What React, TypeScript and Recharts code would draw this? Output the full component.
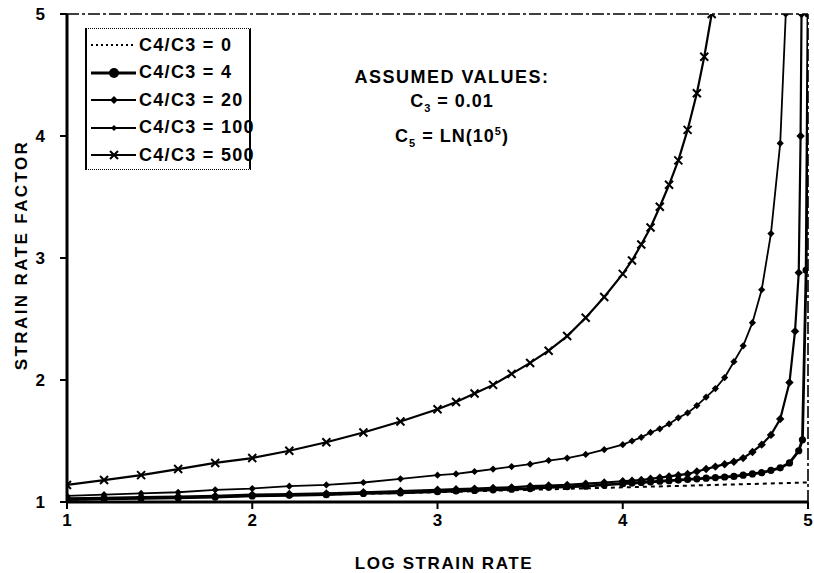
import { LineChart, Line, XAxis, YAxis, ReferenceLine, Label } from 'recharts';

const FONT = '"Liberation Sans", Arial, sans-serif';

const X_TICKS = [1, 2, 3, 4, 5];
const Y_TICKS = [1, 2, 3, 4, 5];

// C4/C3 = 0
const X_R0 = [1, 2, 3, 4, 5];
const Y_R0 = [1.02, 1.05, 1.08, 1.12, 1.16];

// C4/C3 = 4
const X_R4 = [1.0, 1.2, 1.4, 1.6, 1.8, 2.0, 2.2, 2.4, 2.6, 2.8, 3.0, 3.1, 3.2, 3.3, 3.4, 3.5, 3.6, 3.7, 3.8, 3.9, 4.0,
    4.05, 4.1, 4.15, 4.2, 4.25, 4.3, 4.35, 4.4, 4.45, 4.5, 4.55, 4.6, 4.65, 4.7, 4.75, 4.8, 4.85, 4.9, 4.95, 4.97, 4.99, 5.0];
const Y_R4 = [1.02, 1.025, 1.03, 1.035, 1.04, 1.05, 1.055, 1.06, 1.07, 1.075, 1.085, 1.09, 1.095, 1.1, 1.105, 1.11, 1.12, 1.125, 1.13, 1.14, 1.15,
    1.155, 1.16, 1.165, 1.17, 1.175, 1.18, 1.185, 1.19, 1.195, 1.2, 1.205, 1.21, 1.22, 1.23, 1.24, 1.26, 1.28, 1.32, 1.42, 1.51, 2.9, 5.0];

// C4/C3 = 20
const X_R20 = [1.0, 1.2, 1.4, 1.6, 1.8, 2.0, 2.2, 2.4, 2.6, 2.8, 3.0, 3.1, 3.2, 3.3, 3.4, 3.5, 3.6, 3.7, 3.8, 3.9, 4.0,
    4.05, 4.1, 4.15, 4.2, 4.25, 4.3, 4.35, 4.4, 4.45, 4.5, 4.55, 4.6, 4.65, 4.7, 4.75, 4.8, 4.85, 4.9, 4.93, 4.95, 4.96, 4.965];
const Y_R20 = [1.03, 1.035, 1.04, 1.045, 1.05, 1.06, 1.065, 1.07, 1.08, 1.09, 1.1, 1.105, 1.11, 1.115, 1.12, 1.13, 1.135, 1.14, 1.15, 1.16, 1.17,
    1.175, 1.18, 1.19, 1.2, 1.21, 1.22, 1.23, 1.25, 1.27, 1.29, 1.31, 1.33, 1.36, 1.41, 1.47, 1.55, 1.68, 1.98, 2.4, 2.88, 4.0, 5.0];

// C4/C3 = 100
const X_R100 = [1.0, 1.2, 1.4, 1.6, 1.8, 2.0, 2.2, 2.4, 2.6, 2.8, 3.0, 3.1, 3.2, 3.3, 3.4, 3.5, 3.6, 3.7, 3.8, 3.9, 4.0,
    4.05, 4.1, 4.15, 4.2, 4.25, 4.3, 4.35, 4.4, 4.45, 4.5, 4.55, 4.6, 4.65, 4.7, 4.75, 4.8, 4.85, 4.88];
const Y_R100 = [1.05, 1.06, 1.07, 1.08, 1.1, 1.11, 1.13, 1.14, 1.16, 1.19, 1.22, 1.23, 1.25, 1.27, 1.29, 1.31, 1.34, 1.36, 1.39, 1.43, 1.47,
    1.5, 1.53, 1.57, 1.6, 1.64, 1.69, 1.73, 1.79, 1.86, 1.93, 2.02, 2.15, 2.28, 2.47, 2.74, 3.2, 3.94, 5.0];

// C4/C3 = 500
const X_R500 = [1.0, 1.2, 1.4, 1.6, 1.8, 2.0, 2.2, 2.4, 2.6, 2.8, 3.0, 3.1, 3.2, 3.3, 3.4, 3.5, 3.6, 3.7, 3.8, 3.9, 4.0,
    4.05, 4.1, 4.15, 4.2, 4.25, 4.3, 4.35, 4.4, 4.44, 4.48];
const Y_R500 = [1.14, 1.18, 1.22, 1.27, 1.32, 1.36, 1.42, 1.49, 1.57, 1.66, 1.76, 1.82, 1.89, 1.96, 2.05, 2.14, 2.24, 2.36, 2.51, 2.68, 2.87,
    2.98, 3.11, 3.25, 3.42, 3.6, 3.8, 4.05, 4.35, 4.65, 5.0];

const toPoints = (xs: number[], ys: number[]) => xs.map((x, i) => ({ x, y: ys[i] }));

const circleDot = (r: number) => (p: any) => (
    <circle key={`c${p.index}`} cx={p.cx} cy={p.cy} r={r} fill="#000" />
);
const diamondDot = (s: number) => (p: any) => (
    <path key={`d${p.index}`} d={`M${p.cx},${p.cy - s}L${p.cx + s},${p.cy}L${p.cx},${p.cy + s}L${p.cx - s},${p.cy}Z`} fill="#000" />
);
const crossDot = (s: number) => (p: any) => (
    <path key={`x${p.index}`} d={`M${p.cx - s},${p.cy - s}L${p.cx + s},${p.cy + s}M${p.cx - s},${p.cy + s}L${p.cx + s},${p.cy - s}`} stroke="#000" strokeWidth={2} fill="none" />
);

const SERIES = [
    { name: 'C4/C3 = 0', data: toPoints(X_R0, Y_R0), width: 2, dash: '4 4', dot: null as any, marker: 'none' },
    { name: 'C4/C3 = 4', data: toPoints(X_R4, Y_R4), width: 2.8, dash: undefined, dot: circleDot(3.6), marker: 'circle' },
    { name: 'C4/C3 = 20', data: toPoints(X_R20, Y_R20), width: 2.2, dash: undefined, dot: diamondDot(4.2), marker: 'diamond' },
    { name: 'C4/C3 = 100', data: toPoints(X_R100, Y_R100), width: 1.8, dash: undefined, dot: diamondDot(3.6), marker: 'diamond-s' },
    { name: 'C4/C3 = 500', data: toPoints(X_R500, Y_R500), width: 2.2, dash: undefined, dot: crossDot(4), marker: 'cross' },
];

function LegendSymbol({ marker, width, dash }: { marker: string; width: number; dash?: string }) {
    return (
        <svg width={47} height={14} style={{ display: 'block' }}>
            <line x1={1} y1={7} x2={46} y2={7} stroke="#000" strokeWidth={width} strokeDasharray={dash === '4 4' ? '2 3' : dash} />
            {marker === 'circle' && <circle cx={24} cy={7} r={5} fill="#000" />}
            {marker === 'diamond' && <path d="M24,3L28,7L24,11L20,7Z" fill="#000" />}
            {marker === 'diamond-s' && <path d="M24,4L27,7L24,10L21,7Z" fill="#000" />}
            {marker === 'cross' && <path d="M20,3L28,11M20,11L28,3" stroke="#000" strokeWidth={2} />}
        </svg>
    );
}

const textStyle = { fontFamily: FONT, fontWeight: 'bold' as const, color: '#000' };

export default function App() {
    return (
        <div style={{ position: 'absolute', left: 0, top: 0, width: 814, height: 573, background: '#fff' }}>
            <LineChart width={814} height={573} margin={{ top: 14, right: 6, bottom: 0, left: 0 }}>
                <XAxis
                    type="number"
                    dataKey="x"
                    domain={[1, 5]}
                    ticks={X_TICKS}
                    allowDataOverflow
                    height={71}
                    axisLine={{ stroke: '#000', strokeWidth: 3 }}
                    tickLine={{ stroke: '#000', strokeWidth: 2 }}
                    tickSize={7}
                    tickMargin={5}
                    tick={{ fill: '#000', fontSize: 17, fontWeight: 'bold', fontFamily: FONT }}
                >
                    <Label
                        content={() => (
                            <text x={444} y={569} textAnchor="middle" fontSize={17} fontWeight="bold" fontFamily={FONT} letterSpacing={1.6} fill="#000">
                                LOG STRAIN RATE
                            </text>
                        )}
                    />
                </XAxis>
                <YAxis
                    type="number"
                    domain={[1, 5]}
                    ticks={Y_TICKS}
                    allowDataOverflow
                    width={67}
                    axisLine={{ stroke: '#000', strokeWidth: 3 }}
                    tickLine={{ stroke: '#000', strokeWidth: 2 }}
                    tickSize={7}
                    tickMargin={15}
                    tick={{ fill: '#000', fontSize: 17, fontWeight: 'bold', fontFamily: FONT }}
                >
                    <Label
                        content={() => (
                            <text x={27} y={255} transform="rotate(-90 27 255)" textAnchor="middle" fontSize={17} fontWeight="bold" fontFamily={FONT} letterSpacing={2.4} fill="#000">
                                STRAIN RATE FACTOR
                            </text>
                        )}
                    />
                </YAxis>
                <ReferenceLine y={5} stroke="#000" strokeWidth={1.6} strokeDasharray="12 3 3 3" />
                <ReferenceLine x={5} stroke="#000" strokeWidth={1.6} strokeDasharray="12 3 3 3" />
                {SERIES.map((s) => (
                    <Line
                        key={s.name}
                        data={s.data}
                        dataKey="y"
                        name={s.name}
                        type="linear"
                        stroke="#000"
                        strokeWidth={s.width}
                        strokeDasharray={s.dash}
                        dot={s.dot ?? false}
                        activeDot={false}
                        isAnimationActive={false}
                    />
                ))}
            </LineChart>

            <div
                style={{
                    position: 'absolute', left: 85, top: 28, width: 166, height: 142,
                    borderLeft: '2px solid #000', borderRight: '2px solid #000',
                    borderTop: '1.5px dotted #000', borderBottom: '1.5px dotted #000',
                    background: '#fff', boxSizing: 'border-box',
                }}
            >
                {SERIES.map((s, i) => (
                    <div
                        key={s.name}
                        style={{ position: 'absolute', left: 3, top: 7 + i * 27.5, height: 18, display: 'flex', alignItems: 'center' }}
                    >
                        <LegendSymbol marker={s.marker} width={s.width} dash={s.dash} />
                        <span style={{ ...textStyle, fontSize: 18, letterSpacing: 1.3, marginLeft: 2, whiteSpace: 'nowrap' }}>{s.name}</span>
                    </div>
                ))}
            </div>

            <div style={{ position: 'absolute', left: 352, top: 66, width: 200, textAlign: 'center', ...textStyle, fontSize: 18, lineHeight: '23.5px' }}>
                <div style={{ letterSpacing: 1.5 }}>ASSUMED VALUES:</div>
                <div style={{ letterSpacing: 1 }}>C<sub style={{ fontSize: 11 }}>3</sub> = 0.01</div>
                <div style={{ letterSpacing: 1 }}>C<sub style={{ fontSize: 11 }}>5</sub> = LN(10<sup style={{ fontSize: 11 }}>5</sup>)</div>
            </div>
        </div>
    );
}
